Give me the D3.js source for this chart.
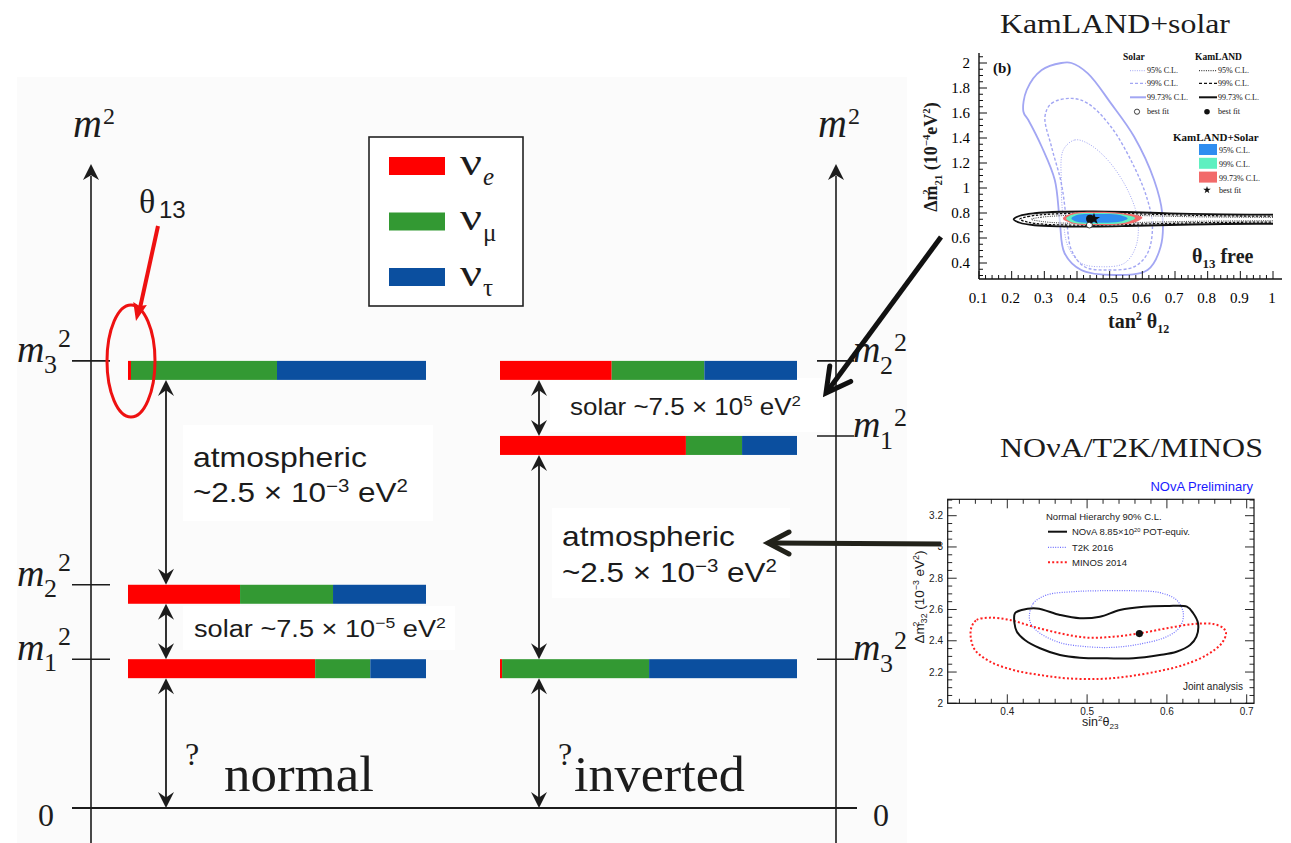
<!DOCTYPE html>
<html><head><meta charset="utf-8">
<script src="https://cdn.jsdelivr.net/npm/d3@7"></script>
<style>body{margin:0;background:#fff}svg{display:block}text{white-space:pre}</style>
</head><body>
<svg id="c" width="1291" height="843"></svg>
<script>
// ---------------- DATA ----------------
const flavors = ["e", "μ", "τ"];
const flavorColors = ["#ff0000", "#339933", "#0b4f9f"];
const normalStates = ["3", "2", "1"];
const normalLevels = [70.3, 35.1, 23.4];
const normalMix = [[0.01, 0.49, 0.50], [0.376, 0.312, 0.312], [0.628, 0.185, 0.187]];
const invertedStates = ["2", "1", "3"];
const invertedLevels = [70.3, 58.5, 23.4];
const invertedMix = [[0.376, 0.312, 0.312], [0.626, 0.189, 0.185], [0.007, 0.495, 0.498]];

// KamLAND + solar inset (tan^2 theta12, dm21^2 in 1e-4 eV^2)
const kamXTicks = [0.1, 0.2, 0.3, 0.4, 0.5, 0.6, 0.7, 0.8, 0.9, 1];
const kamYTicks = [0.4, 0.6, 0.8, 1, 1.2, 1.4, 1.6, 1.8, 2];
const solar9973 = [[0.236,1.61],[0.246,1.784],[0.292,1.944],[0.352,2.0],[0.383,2.0],[0.433,1.917],[0.504,1.677],[0.575,1.41],[0.636,1.064],[0.661,0.797],[0.656,0.53],[0.616,0.344],[0.514,0.304],[0.413,0.344],[0.362,0.478],[0.347,0.744],[0.332,1.064],[0.292,1.33],[0.251,1.544]];
const solar99 = [[0.302,1.571],[0.322,1.677],[0.383,1.717],[0.433,1.677],[0.504,1.49],[0.575,1.17],[0.616,0.904],[0.631,0.69],[0.616,0.478],[0.575,0.37],[0.494,0.344],[0.423,0.37],[0.383,0.504],[0.368,0.744],[0.352,1.038],[0.322,1.33]];
const solar95 = [[0.358,1.304],[0.393,1.384],[0.433,1.357],[0.494,1.224],[0.555,0.984],[0.586,0.744],[0.58,0.53],[0.545,0.398],[0.474,0.37],[0.413,0.398],[0.373,0.53],[0.358,0.744],[0.352,1.038]];
const kam9973 = [[0.206,0.75],[0.225,0.778],[0.27,0.798],[0.35,0.81],[0.45,0.812],[0.55,0.808],[0.65,0.8],[0.75,0.793],[0.85,0.789],[0.95,0.787],[1.05,0.786],[1.15,0.786],[1.15,0.714],[1.05,0.714],[0.95,0.714],[0.85,0.712],[0.75,0.708],[0.65,0.702],[0.55,0.696],[0.45,0.692],[0.35,0.693],[0.27,0.702],[0.225,0.722]];
const kam99 = [[0.225,0.75],[0.25,0.772],[0.3,0.788],[0.4,0.798],[0.5,0.798],[0.6,0.792],[0.7,0.785],[0.8,0.779],[0.9,0.776],[1.0,0.775],[1.15,0.775],[1.15,0.727],[1.0,0.727],[0.9,0.726],[0.8,0.723],[0.7,0.718],[0.6,0.712],[0.5,0.705],[0.4,0.703],[0.3,0.71],[0.25,0.727]];
const kam95 = [[0.26,0.75],[0.29,0.766],[0.35,0.778],[0.45,0.784],[0.55,0.782],[0.65,0.776],[0.75,0.77],[0.85,0.767],[1.0,0.765],[1.15,0.765],[1.15,0.738],[1.0,0.738],[0.85,0.736],[0.75,0.733],[0.65,0.728],[0.55,0.722],[0.45,0.718],[0.35,0.72],[0.29,0.733]];
const comb9973 = [[0.357,0.757],[0.38,0.795],[0.45,0.81],[0.53,0.802],[0.6,0.765],[0.57,0.72],[0.47,0.704],[0.39,0.715]];
const comb99 = [[0.367,0.757],[0.39,0.79],[0.45,0.8],[0.53,0.792],[0.578,0.76],[0.55,0.725],[0.47,0.712],[0.39,0.722]];
const comb95 = [[0.383,0.757],[0.40,0.785],[0.46,0.792],[0.53,0.785],[0.555,0.757],[0.53,0.73],[0.46,0.722],[0.40,0.73]];
const solarBest = [0.438, 0.704];
const kamBest = [0.44, 0.755];
const combBest = [0.452, 0.752];

// NOvA / T2K / MINOS inset (sin^2 theta23, dm32^2 in 1e-3 eV^2)
const novaXTicks = [0.4, 0.5, 0.6, 0.7];
const novaYTicks = [2, 2.2, 2.4, 2.6, 2.8, 3, 3.2];
const novaContour = [[0.4096,2.576],[0.418,2.597],[0.437,2.607],[0.466,2.565],[0.491,2.544],[0.516,2.554],[0.541,2.597],[0.571,2.618],[0.600,2.622],[0.625,2.618],[0.633,2.576],[0.639,2.512],[0.637,2.426],[0.629,2.373],[0.612,2.330],[0.591,2.309],[0.558,2.288],[0.525,2.288],[0.491,2.292],[0.466,2.309],[0.441,2.352],[0.422,2.405],[0.412,2.458],[0.409,2.512]];
const t2kContour = [[0.4276,2.554],[0.4326,2.639],[0.4493,2.693],[0.4827,2.714],[0.5162,2.720],[0.558,2.720],[0.591,2.708],[0.612,2.661],[0.6206,2.576],[0.6165,2.490],[0.5998,2.426],[0.5663,2.379],[0.5329,2.358],[0.4995,2.362],[0.466,2.388],[0.441,2.448],[0.4305,2.501]];
const minosContour = [[0.3553,2.490],[0.3616,2.533],[0.3783,2.548],[0.4033,2.533],[0.4326,2.490],[0.466,2.448],[0.4995,2.420],[0.5329,2.426],[0.5663,2.448],[0.5998,2.480],[0.6332,2.507],[0.6583,2.507],[0.6708,2.480],[0.6741,2.448],[0.6687,2.384],[0.6499,2.309],[0.6206,2.245],[0.5872,2.203],[0.5496,2.171],[0.5162,2.156],[0.4744,2.160],[0.441,2.181],[0.4075,2.213],[0.3783,2.267],[0.3595,2.341],[0.3541,2.426]];
const novaBest = [0.5655, 2.446];

// ---------------- DRAW ----------------
const SERIF = "'Liberation Serif','Times New Roman',serif";
const SANS = "'Liberation Sans',Arial,sans-serif";
const INK = "#1c1c1c";
const svg = d3.select("#c");

svg.append("rect").attr("width", 1291).attr("height", 843).attr("fill", "#fff");
svg.append("rect").attr("x", 17).attr("y", 77).attr("width", 890).attr("height", 766).attr("fill", "#fbfbfb");
[[183,425,250,96],[183,606,272,44],[550,378,280,54],[552,508,238,90]].forEach(b =>
  svg.append("rect").attr("x", b[0]).attr("y", b[1]).attr("width", b[2]).attr("height", b[3]).attr("fill", "#fff"));

function rich(g, x, y, parts, o) {
  const t = g.append("text").attr("x", x).attr("y", y)
    .attr("font-family", o.ff).attr("font-size", o.fs).attr("fill", o.fill || INK);
  if (o.style) t.attr("font-style", o.style);
  if (o.weight) t.attr("font-weight", o.weight);
  if (o.anchor) t.attr("text-anchor", o.anchor);
  let cur = 0;
  parts.forEach(p => {
    const s = typeof p === "string" ? p : p[0];
    const k = typeof p === "string" ? "n" : p[1];
    const off = k === "sup" ? -o.fs * 0.38 : k === "sub" ? o.fs * 0.25 : 0;
    const ts = t.append("tspan").text(s).attr("dy", off - cur);
    if (k !== "n") ts.attr("font-size", o.fs * (o.ss || 0.65));
    cur = off;
  });
  if (o.w) {
    const bw = t.node().getBBox().width;
    const s = o.w / bw;
    t.attr("transform", `translate(${x},0) scale(${s},1) translate(${-x},0)`);
  }
  return t;
}
function head(g, tx, ty, ux, uy, len, hw, notch, color) {
  const bx = tx - ux * len, by = ty - uy * len, px = -uy, py = ux;
  const nx = tx - ux * len * notch, ny = ty - uy * len * notch;
  g.append("path").attr("d", `M${tx},${ty}L${bx + px * hw},${by + py * hw}L${nx},${ny}L${bx - px * hw},${by - py * hw}Z`)
    .attr("fill", color || INK);
}
function vHead(g, tx, ty, ux, uy, len, hw, sw, color) {
  const bx = tx - ux * len, by = ty - uy * len, px = -uy, py = ux;
  g.append("path").attr("d", `M${bx + px * hw},${by + py * hw}L${tx},${ty}L${bx - px * hw},${by - py * hw}`)
    .attr("fill", "none").attr("stroke", color).attr("stroke-width", sw).attr("stroke-linecap", "round");
}

const mScale = d3.scaleLinear().domain([0, 100]).range([808, 172]);
const xNormal = d3.scaleLinear().domain([0, 1]).range([128, 426]);
const xInverted = d3.scaleLinear().domain([0, 1]).range([500, 797]);
const barH = 19;
const main = svg.append("g");

[91, 836].forEach(x => {
  main.append("line").attr("x1", x).attr("x2", x).attr("y1", 843).attr("y2", 176).attr("stroke", INK).attr("stroke-width", 1.6);
  head(main, x, 164, 0, -1, 16, 8, 0.7);
});
main.append("line").attr("x1", 72).attr("x2", 857).attr("y1", mScale(0)).attr("y2", mScale(0)).attr("stroke", INK).attr("stroke-width", 1.8);
main.append("text").attr("x", 46).attr("y", 826).attr("text-anchor", "middle").attr("font-family", SERIF).attr("font-size", 32).attr("fill", INK).text("0");
main.append("text").attr("x", 881).attr("y", 826).attr("text-anchor", "middle").attr("font-family", SERIF).attr("font-size", 32).attr("fill", INK).text("0");
[[73, 137], [818, 137]].forEach(([x, y]) => {
  main.append("text").attr("x", x).attr("y", y).attr("font-family", SERIF).attr("font-style", "italic").attr("font-size", 40).attr("fill", INK).text("m");
  main.append("text").attr("x", x + 30).attr("y", y - 13).attr("font-family", SERIF).attr("font-size", 24).attr("fill", INK).text("2");
});

function drawScheme(levels, mix, states, xs, tickX1, tickX2, labX, subDx, supDx, subDy, supDy) {
  levels.forEach((lv, i) => {
    const y = mScale(lv);
    let acc = 0;
    mix[i].forEach((f, j) => {
      main.append("rect").attr("x", xs(acc)).attr("y", y).attr("width", xs(acc + f) - xs(acc)).attr("height", barH).attr("fill", flavorColors[j]);
      acc += f;
    });
    main.append("line").attr("x1", tickX1).attr("x2", tickX2).attr("y1", y).attr("y2", y).attr("stroke", INK).attr("stroke-width", 1.6);
    main.append("text").attr("x", labX).attr("y", y + 1).attr("font-family", SERIF).attr("font-style", "italic").attr("font-size", 38).attr("fill", INK).text("m");
    main.append("text").attr("x", labX + subDx).attr("y", y + subDy).attr("font-family", SERIF).attr("font-size", 26).attr("fill", INK).text(states[i]);
    main.append("text").attr("x", labX + supDx).attr("y", y + supDy).attr("font-family", SERIF).attr("font-size", 26).attr("fill", INK).text("2");
  });
}
drawScheme(normalLevels, normalMix, normalStates, xNormal, 72, 110, 17, 27, 41, 12, -14);
drawScheme(invertedLevels, invertedMix, invertedStates, xInverted, 817, 854, 853, 27, 41, 13, -10);

function gapArrows(levels, x) {
  const sorted = levels.slice().sort((a, b) => b - a);
  sorted.forEach((lv, i) => {
    const a = mScale(lv) + barH;
    const b = i + 1 < sorted.length ? mScale(sorted[i + 1]) : mScale(0);
    main.append("line").attr("x1", x).attr("x2", x).attr("y1", a + 8).attr("y2", b - 8).attr("stroke", INK).attr("stroke-width", 1.8);
    head(main, x, a, 0, -1, 16, 8, 0.65);
    head(main, x, b, 0, 1, 16, 8, 0.65);
  });
}
gapArrows(normalLevels, 166);
gapArrows(invertedLevels, 539);

rich(main, 193, 467, ["atmospheric"], { ff: SANS, fs: 27, w: 174 });
rich(main, 193, 502, ["~2.5 × 10", ["−3", "sup"], " eV", ["2", "sup"]], { ff: SANS, fs: 27, w: 215 });
rich(main, 194, 637, ["solar ~7.5 × 10", ["−5", "sup"], " eV", ["2", "sup"]], { ff: SANS, fs: 23, w: 252 });
rich(main, 570, 415, ["solar ~7.5 × 10", ["5", "sup"], " eV", ["2", "sup"]], { ff: SANS, fs: 23, w: 231 });
rich(main, 562, 546, ["atmospheric"], { ff: SANS, fs: 27, w: 173 });
rich(main, 562, 582, ["~2.5 × 10", ["−3", "sup"], " eV", ["2", "sup"]], { ff: SANS, fs: 27, w: 215 });
rich(main, 224, 791, ["normal"], { ff: SERIF, fs: 50, w: 150 });
rich(main, 574, 791, ["inverted"], { ff: SERIF, fs: 50, w: 171 });
main.append("text").attr("x", 185).attr("y", 765).attr("font-family", SERIF).attr("font-size", 32).attr("fill", INK).text("?");
main.append("text").attr("x", 558).attr("y", 765).attr("font-family", SERIF).attr("font-size", 32).attr("fill", INK).text("?");

main.append("text").attr("x", 139).attr("y", 213).attr("font-family", SERIF).attr("font-size", 34).attr("fill", INK).text("θ");
main.append("text").attr("x", 159).attr("y", 218).attr("font-family", SANS).attr("font-size", 24).attr("fill", INK).text("13");
main.append("line").attr("x1", 158).attr("y1", 226).attr("x2", 140).attr("y2", 308).attr("stroke", "#ee1111").attr("stroke-width", 4);
head(main, 136, 321, -0.2256, 0.974, 18, 7, 0.85, "#ee1111");
main.append("ellipse").attr("cx", 131).attr("cy", 361).attr("rx", 24).attr("ry", 56).attr("fill", "none").attr("stroke", "#ee1111").attr("stroke-width", 3);

const leg = main.append("g");
leg.append("rect").attr("x", 369).attr("y", 137).attr("width", 154).attr("height", 169).attr("fill", "#fff").attr("stroke", "#222").attr("stroke-width", 1.6);
flavors.forEach((f, i) => {
  const y0 = 157 + i * 55.5;
  leg.append("rect").attr("x", 389).attr("y", y0).attr("width", 56).attr("height", 18).attr("fill", flavorColors[i]);
  rich(leg, 460, y0 + 18, ["ν"], { ff: SERIF, fs: 38, w: 22 });
  leg.append("text").attr("x", 483).attr("y", y0 + 28).attr("font-family", SERIF).attr("font-size", 25).attr("font-style", i === 0 ? "italic" : "normal").attr("fill", INK).text(f);
});

main.append("line").attr("x1", 941).attr("y1", 237).attr("x2", 829).attr("y2", 389).attr("stroke", "#111").attr("stroke-width", 5);
vHead(main, 826, 393, -0.5934, 0.805, 24, 13, 5, "#111");
main.append("line").attr("x1", 941).attr("y1", 544).attr("x2", 772).attr("y2", 543).attr("stroke", "#22221a").attr("stroke-width", 5);
vHead(main, 768, 543, -1, 0, 21, 11, 5, "#22221a");

// ---------------- KamLAND + solar inset ----------------
const k = svg.append("g");
const kx = d3.scaleLinear().domain([0.1, 1]).range([979, 1273]);
const ky = d3.scaleLinear().domain([0.4, 2]).range([263, 63]);
rich(k, 1000, 33, ["KamLAND+solar"], { ff: SERIF, fs: 27, w: 230 });
const clip = svg.append("clipPath").attr("id", "kclip");
clip.append("rect").attr("x", 979).attr("y", 40).attr("width", kx(1) - 979).attr("height", 279 - 40);
const kp = k.append("g").attr("clip-path", "url(#kclip)");
const kline = d3.line().x(d => kx(d[0])).y(d => ky(d[1])).curve(d3.curveCatmullRomClosed.alpha(0.5));
const SOL = "#a2a6f3";
kp.append("path").attr("d", kline(solar9973)).attr("fill", "none").attr("stroke", SOL).attr("stroke-width", 1.8);
kp.append("path").attr("d", kline(solar99)).attr("fill", "none").attr("stroke", SOL).attr("stroke-width", 1.4).attr("stroke-dasharray", "3,2");
kp.append("path").attr("d", kline(solar95)).attr("fill", "none").attr("stroke", SOL).attr("stroke-width", 1).attr("stroke-dasharray", "1,1.5");
kp.append("path").attr("d", kline(kam9973)).attr("fill", "#fff").attr("fill-opacity", 0.6).attr("stroke", "#111").attr("stroke-width", 1.8);
kp.append("path").attr("d", kline(kam99)).attr("fill", "none").attr("stroke", "#111").attr("stroke-width", 1.3).attr("stroke-dasharray", "2.5,1.5");
kp.append("path").attr("d", kline(kam95)).attr("fill", "none").attr("stroke", "#222").attr("stroke-width", 0.9).attr("stroke-dasharray", "1,1.2");
kp.append("path").attr("d", kline(comb9973)).attr("fill", "#f26a6a");
kp.append("path").attr("d", kline(comb99)).attr("fill", "#5ff0c0");
kp.append("path").attr("d", kline(comb95)).attr("fill", "#2f8df0");
kp.append("circle").attr("cx", kx(solarBest[0])).attr("cy", ky(solarBest[1])).attr("r", 3).attr("fill", "#fff").attr("stroke", "#111").attr("stroke-width", 0.8);
kp.append("circle").attr("cx", kx(kamBest[0])).attr("cy", ky(kamBest[1])).attr("r", 4).attr("fill", "#111");
kp.append("path").attr("d", d3.symbol(d3.symbolStar, 45)()).attr("transform", `translate(${kx(combBest[0])},${ky(combBest[1])})`).attr("fill", "#111");
k.append("line").attr("x1", 979).attr("x2", 979).attr("y1", 53).attr("y2", 279).attr("stroke", "#111").attr("stroke-width", 1.4);
k.append("line").attr("x1", 979).attr("x2", 1282).attr("y1", 279).attr("y2", 279).attr("stroke", "#111").attr("stroke-width", 1.4);
d3.range(0.1, 1.0001, 0.02).forEach(v => {
  const major = Math.abs(v * 10 - Math.round(v * 10)) < 1e-6;
  k.append("line").attr("x1", kx(v)).attr("x2", kx(v)).attr("y1", 279).attr("y2", 279 - (major ? 8 : 4)).attr("stroke", "#111").attr("stroke-width", 1);
});
d3.range(0.3, 2.0801, 0.05).forEach(v => {
  const major = Math.abs(v * 5 - Math.round(v * 5)) < 1e-6;
  k.append("line").attr("x1", 979).attr("x2", 979 + (major ? 8 : 4)).attr("y1", ky(v)).attr("y2", ky(v)).attr("stroke", "#111").attr("stroke-width", 1);
});
kamXTicks.forEach(v => k.append("text").attr("x", kx(v) - 1).attr("y", 303).attr("text-anchor", "middle").attr("font-family", SERIF).attr("font-size", 15).attr("fill", "#000").text(String(v)));
kamYTicks.forEach(v => k.append("text").attr("x", 970).attr("y", ky(v) + 5).attr("text-anchor", "end").attr("font-family", SERIF).attr("font-size", 15).attr("fill", "#000").text(String(v)));
rich(k, 1108, 328, ["tan", ["2", "sup"], " θ", ["12", "sub"]], { ff: SERIF, fs: 20, weight: "bold", ss: 0.6 });
const ylab = k.append("g").attr("transform", "translate(937,157) rotate(-90)");
rich(ylab, 0, 0, ["Δm", ["21", "sub"], " (10", ["−4", "sup"], "eV", ["2", "sup"], ")"], { ff: SERIF, fs: 18, weight: "bold", ss: 0.6, anchor: "middle" });
{
  const tb = ylab.select("text").node().getBBox();
  ylab.append("text").attr("x", tb.x + 17).attr("y", -7).attr("font-family", SERIF).attr("font-size", 10.5).attr("font-weight", "bold").attr("fill", INK).text("2");
}
k.append("text").attr("x", 993).attr("y", 73).attr("font-family", SERIF).attr("font-size", 15).attr("font-weight", "bold").attr("fill", "#111").text("(b)");
rich(k, 1192, 263, ["θ", ["13", "sub"], " free"], { ff: SERIF, fs: 20, weight: "bold", ss: 0.65 });
const LF = 8;
k.append("text").attr("x", 1123).attr("y", 60).attr("font-family", SERIF).attr("font-size", 9.5).attr("font-weight", "bold").attr("fill", "#111").text("Solar");
k.append("text").attr("x", 1195).attr("y", 60).attr("font-family", SERIF).attr("font-size", 9.5).attr("font-weight", "bold").attr("fill", "#111").text("KamLAND");
const rowsY = [70.7, 83.3, 97.3];
const rowsT = ["95% C.L.", "99% C.L.", "99.73% C.L."];
const dashes = ["1,1.3", "3,2", null];
const widths = [1, 1.3, 2];
rowsY.forEach((y, i) => {
  const a = k.append("line").attr("x1", 1130).attr("x2", 1146).attr("y1", y).attr("y2", y).attr("stroke", SOL).attr("stroke-width", widths[i]);
  if (dashes[i]) a.attr("stroke-dasharray", dashes[i]);
  k.append("text").attr("x", 1147).attr("y", y + 2.5).attr("font-family", SERIF).attr("font-size", LF).attr("fill", "#111").text(rowsT[i]);
  const b = k.append("line").attr("x1", 1199).attr("x2", 1217).attr("y1", y).attr("y2", y).attr("stroke", "#111").attr("stroke-width", widths[i]);
  if (dashes[i]) b.attr("stroke-dasharray", dashes[i]);
  k.append("text").attr("x", 1218).attr("y", y + 2.5).attr("font-family", SERIF).attr("font-size", LF).attr("fill", "#111").text(rowsT[i]);
});
k.append("circle").attr("cx", 1137).attr("cy", 111.7).attr("r", 2.6).attr("fill", "#fff").attr("stroke", "#111").attr("stroke-width", 0.8);
k.append("text").attr("x", 1147).attr("y", 114.2).attr("font-family", SERIF).attr("font-size", LF).attr("fill", "#111").text("best fit");
k.append("circle").attr("cx", 1207).attr("cy", 111.7).attr("r", 2.8).attr("fill", "#111");
k.append("text").attr("x", 1218).attr("y", 114.2).attr("font-family", SERIF).attr("font-size", LF).attr("fill", "#111").text("best fit");
k.append("text").attr("x", 1173).attr("y", 141).attr("font-family", SERIF).attr("font-size", 11).attr("font-weight", "bold").attr("fill", "#111").text("KamLAND+Solar");
[["#2f8df0", "95% C.L."], ["#5ff0c0", "99% C.L."], ["#f26a6a", "99.73% C.L."]].forEach((r, i) => {
  const y = 144 + i * 13.8;
  k.append("rect").attr("x", 1199).attr("y", y).attr("width", 18).attr("height", 11).attr("fill", r[0]);
  k.append("text").attr("x", 1219).attr("y", y + 9).attr("font-family", SERIF).attr("font-size", LF).attr("fill", "#111").text(r[1]);
});
k.append("path").attr("d", d3.symbol(d3.symbolStar, 18)()).attr("transform", "translate(1207,190)").attr("fill", "#111");
k.append("text").attr("x", 1219).attr("y", 193).attr("font-family", SERIF).attr("font-size", LF).attr("fill", "#111").text("best fit");

// ---------------- NOvA / T2K / MINOS inset ----------------
const n = svg.append("g");
const nx = d3.scaleLinear().domain([0.4, 0.7]).range([1007.3, 1246.7]);
const ny = d3.scaleLinear().domain([2, 3.2]).range([703.3, 515.7]);
const fx0 = 947.7, fx1 = 1254, fy0 = 499.3, fy1 = 703.3;
rich(n, 1000, 457, ["NOνA/T2K/MINOS"], { ff: SERIF, fs: 27, w: 263 });
n.append("text").attr("x", 1253).attr("y", 491).attr("text-anchor", "end").attr("font-family", SANS).attr("font-size", 13).attr("fill", "#1a1aff").text("NOvA Preliminary");
n.append("rect").attr("x", fx0).attr("y", fy0).attr("width", fx1 - fx0).attr("height", fy1 - fy0).attr("fill", "#fff").attr("stroke", "#111").attr("stroke-width", 1.2);
d3.range(0.33, 0.7001, 0.01).forEach(v => {
  const major = Math.abs(v * 10 - Math.round(v * 10)) < 1e-6;
  const minor5 = Math.abs(v * 50 - Math.round(v * 50)) < 1e-6;
  if (!major && !minor5) return;
  const L = major ? 9 : 4.5;
  n.append("line").attr("x1", nx(v)).attr("x2", nx(v)).attr("y1", fy1).attr("y2", fy1 - L).attr("stroke", "#111").attr("stroke-width", 0.9);
  n.append("line").attr("x1", nx(v)).attr("x2", nx(v)).attr("y1", fy0).attr("y2", fy0 + L).attr("stroke", "#111").attr("stroke-width", 0.9);
});
d3.range(2, 3.3001, 0.05).forEach(v => {
  const major = Math.abs(v * 5 - Math.round(v * 5)) < 1e-6;
  const L = major ? 9 : 4.5;
  n.append("line").attr("x1", fx0).attr("x2", fx0 + L).attr("y1", ny(v)).attr("y2", ny(v)).attr("stroke", "#111").attr("stroke-width", 0.9);
  n.append("line").attr("x1", fx1).attr("x2", fx1 - L).attr("y1", ny(v)).attr("y2", ny(v)).attr("stroke", "#111").attr("stroke-width", 0.9);
});
novaXTicks.forEach(v => n.append("text").attr("x", nx(v)).attr("y", 715).attr("text-anchor", "middle").attr("font-family", SANS).attr("font-size", 10).attr("fill", "#222").text(String(v)));
novaYTicks.forEach(v => n.append("text").attr("x", 943).attr("y", ny(v) + 3.5).attr("text-anchor", "end").attr("font-family", SANS).attr("font-size", 10).attr("fill", "#222").text(String(v)));
rich(n, 1082, 726, ["sin", ["2", "sup"], "θ", ["23", "sub"]], { ff: SANS, fs: 12.5, ss: 0.65 });
const nyl = n.append("g").attr("transform", "translate(924,597) rotate(-90)");
rich(nyl, 0, 0, ["Δm", ["32", "sub"], " (10", ["−3", "sup"], " eV", ["2", "sup"], ")"], { ff: SANS, fs: 13.5, ss: 0.65, anchor: "middle" });
{
  const tb = nyl.select("text").node().getBBox();
  nyl.append("text").attr("x", tb.x + 17).attr("y", -5.5).attr("font-family", SANS).attr("font-size", 8.8).attr("fill", INK).text("2");
}
const nline = d3.line().x(d => nx(d[0])).y(d => ny(d[1])).curve(d3.curveCatmullRomClosed);
n.append("path").attr("d", nline(t2kContour)).attr("fill", "none").attr("stroke", "#6f6fff").attr("stroke-width", 1.2).attr("stroke-dasharray", "1,1.4");
n.append("path").attr("d", nline(minosContour)).attr("fill", "none").attr("stroke", "#ff2020").attr("stroke-width", 2).attr("stroke-dasharray", "2,2.2");
n.append("path").attr("d", nline(novaContour)).attr("fill", "none").attr("stroke", "#111").attr("stroke-width", 2);
n.append("circle").attr("cx", nx(novaBest[0])).attr("cy", ny(novaBest[1])).attr("r", 3.6).attr("fill", "#111");
n.append("text").attr("x", 1046).attr("y", 520).attr("font-family", SANS).attr("font-size", 9.5).attr("fill", "#222").text("Normal Hierarchy 90% C.L.");
[["#111", 2, null, ["NOvA 8.85×10", ["20", "sup"], " POT-equiv."], 531.7],
 ["#6f6fff", 1.2, "1,1.4", ["T2K 2016"], 547.3],
 ["#ff2020", 2, "2,2.2", ["MINOS 2014"], 562.3]].forEach(r => {
  const l = n.append("line").attr("x1", 1048).attr("x2", 1067).attr("y1", r[4]).attr("y2", r[4]).attr("stroke", r[0]).attr("stroke-width", r[1]);
  if (r[2]) l.attr("stroke-dasharray", r[2]);
  rich(n, 1072, r[4] + 3.5, r[3], { ff: SANS, fs: 9.5, fill: "#222", ss: 0.6 });
});
n.append("text").attr("x", 1243).attr("y", 690).attr("text-anchor", "end").attr("font-family", SANS).attr("font-size", 10).attr("fill", "#222").text("Joint analysis");
</script>
</body></html>
